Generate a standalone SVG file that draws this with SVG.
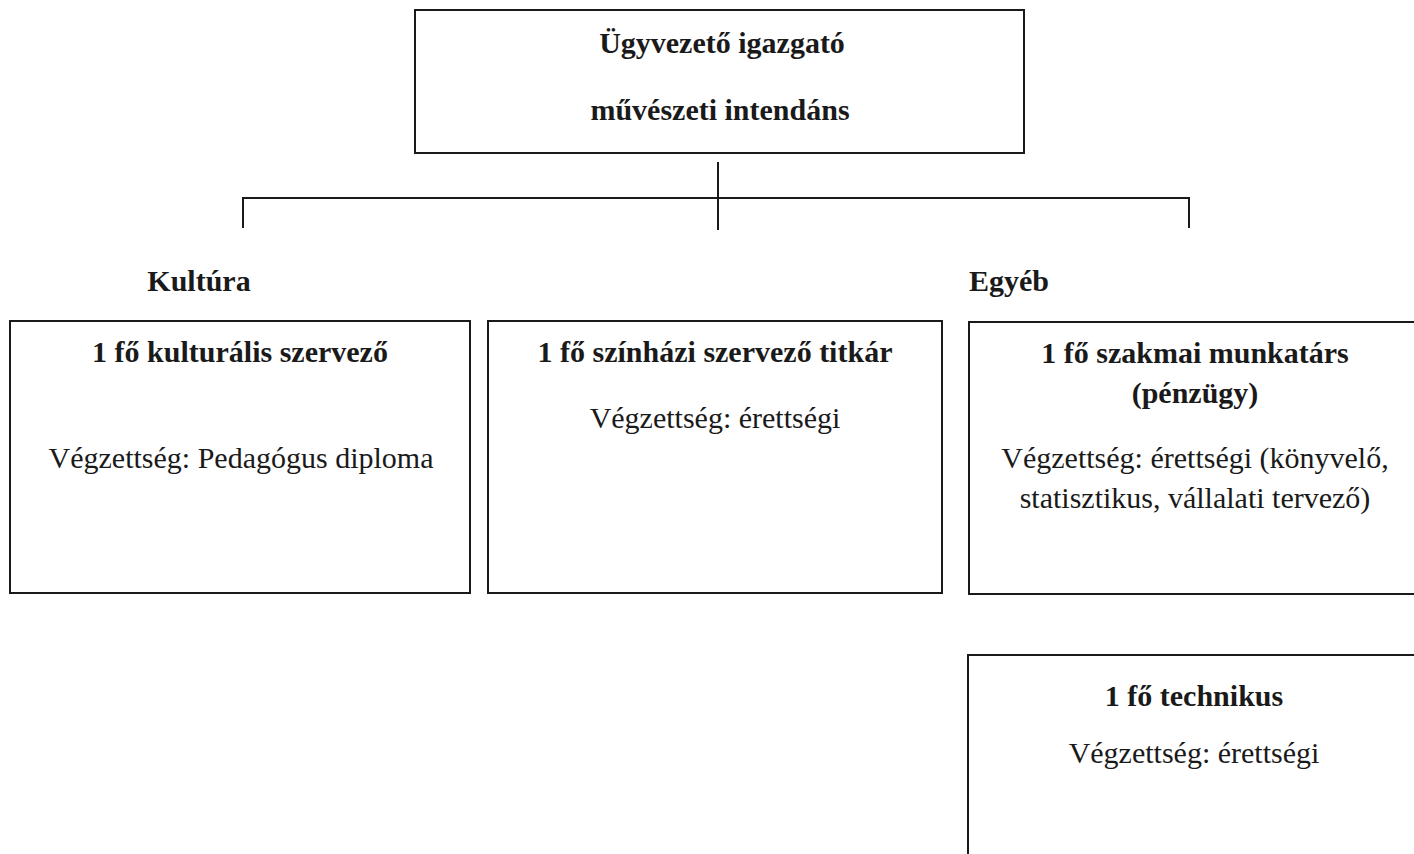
<svg xmlns="http://www.w3.org/2000/svg" width="1414" height="854" viewBox="0 0 1414 854">
<style>
.box{fill:#fff;stroke:#1a1a1a;stroke-width:2}
.ln{stroke:#1a1a1a;stroke-width:2;fill:none}
.b{font-family:"Liberation Serif","Times New Roman",serif;font-weight:bold;font-size:30px;fill:#1a1a1a;text-anchor:middle}
.r{font-family:"Liberation Serif","Times New Roman",serif;font-size:30px;fill:#1a1a1a;text-anchor:middle}
</style>
<rect width="1414" height="854" fill="#fff"/>
<g id="connectors">
<line class="ln" x1="718" y1="162" x2="718" y2="230"/>
<polyline class="ln" points="243,228 243,198 1189,198 1189,228"/>
</g>
<g id="top">
<rect class="box" x="415" y="10" width="609" height="143"/>
<text class="b" x="722" y="53">Ügyvezető igazgató</text>
<text class="b" x="720" y="120">művészeti intendáns</text>
</g>
<g id="label-kultura"><text class="b" x="199" y="291">Kultúra</text></g>
<g id="label-egyeb"><text class="b" x="1009" y="291">Egyéb</text></g>
<g id="kulturalis">
<rect class="box" x="10" y="321" width="460" height="272"/>
<text class="b" x="240" y="362">1 fő kulturális szervező</text>
<text class="r" x="241" y="468">Végzettség: Pedagógus diploma</text>
</g>
<g id="szinhazi">
<rect class="box" x="488" y="321" width="454" height="272"/>
<text class="b" x="715" y="362">1 fő színházi szervező titkár</text>
<text class="r" x="715" y="428">Végzettség: érettségi</text>
</g>
<g id="szakmai">
<rect class="box" x="969" y="322" width="460" height="272"/>
<text class="b" x="1195" y="363">1 fő szakmai munkatárs</text>
<text class="b" x="1195" y="403">(pénzügy)</text>
<text class="r" x="1195" y="468">Végzettség: érettségi (könyvelő,</text>
<text class="r" x="1195" y="508">statisztikus, vállalati tervező)</text>
</g>
<g id="technikus">
<rect class="box" x="968" y="655" width="460" height="220"/>
<text class="b" x="1194" y="706">1 fő technikus</text>
<text class="r" x="1194" y="763">Végzettség: érettségi</text>
</g>
</svg>
